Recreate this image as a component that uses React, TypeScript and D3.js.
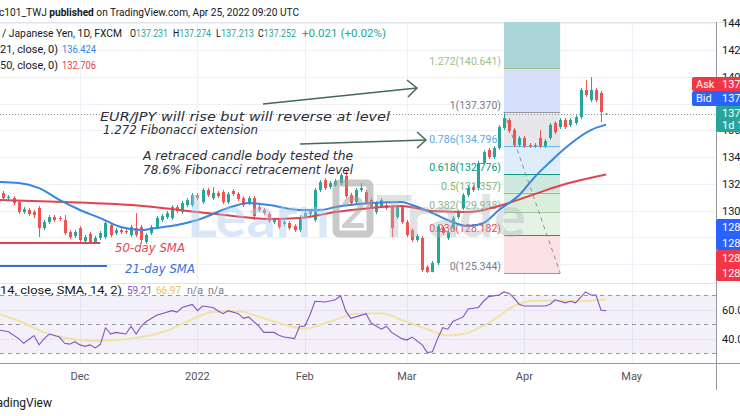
import { useEffect, useRef } from 'react';
import * as d3 from 'd3';

// EUR/JPY 1D (FXCM), weekdays from 9 Nov 2021 to 25 Apr 2022
const firstBar = '2021-11-09';
const lastBar = '2022-04-25';

const opens = [
  131.39, 131.32, 130.94, 130.94, 130.64, 129.90, 130.05, 129.90, 130.20, 128.70,
  129.15, 129.52, 129.45, 129.30, 128.40, 128.11, 128.70, 127.73, 128.26, 127.66,
  127.96, 128.03, 128.93, 128.33, 128.55, 128.48, 128.18, 128.70, 128.78, 127.66,
  128.33, 128.78, 129.30, 129.52, 129.45, 130.27, 129.90, 130.42, 130.42, 131.17,
  130.64, 131.54, 130.94, 131.32, 131.39, 130.64, 131.47, 131.24, 130.94, 130.57,
  130.94, 130.27, 130.05, 129.75, 129.15, 129.30, 129.00, 129.08, 128.85, 128.55,
  129.52, 129.75, 129.30, 131.54, 132.29, 131.77, 131.91, 132.06, 132.59, 131.17,
  130.64, 131.54, 131.39, 130.79, 129.90, 130.35, 130.42, 130.27, 129.52, 130.27,
  129.15, 128.55, 127.81, 127.96, 125.79, 125.42, 126.09, 128.70, 127.96, 128.70,
  129.52, 130.20, 131.17, 131.77, 131.69, 133.56, 134.53, 134.01, 134.68, 136.17,
  136.77, 136.02, 134.90, 135.43, 134.90, 134.90, 135.43, 134.83, 135.43, 136.55,
  136.25, 136.77, 136.40, 136.55, 136.99, 139.01, 138.26, 139.01, 138.79, 137.231,
];
const highs = [
  131.54, 131.47, 131.17, 131.09, 130.79, 130.27, 130.20, 130.05, 130.35, 129.30,
  129.67, 129.67, 129.60, 129.67, 128.55, 128.55, 128.85, 128.18, 128.40, 128.11,
  128.48, 129.23, 129.08, 128.70, 128.70, 128.63, 128.93, 129.82, 128.93, 128.33,
  128.93, 129.60, 129.75, 129.97, 130.42, 130.42, 130.72, 130.94, 131.32, 131.32,
  131.69, 131.69, 131.77, 131.47, 131.54, 131.39, 131.62, 131.39, 131.09, 131.09,
  131.09, 130.42, 130.20, 129.90, 129.45, 129.45, 129.30, 129.23, 129.00, 129.67,
  129.97, 130.12, 131.69, 132.29, 132.44, 132.21, 132.36, 132.81, 132.96, 131.32,
  131.69, 132.06, 131.54, 130.94, 130.72, 130.94, 130.57, 130.42, 130.42, 130.42,
  129.30, 128.70, 128.26, 128.11, 125.94, 126.24, 129.00, 128.85, 128.55, 129.60,
  130.05, 131.32, 131.84, 131.91, 133.71, 134.53, 134.68, 134.83, 136.40, 137.37,
  136.92, 136.17, 135.58, 135.58, 135.05, 135.05, 136.02, 135.35, 136.55, 136.69,
  136.92, 136.92, 136.92, 137.14, 139.16, 139.76, 139.98, 139.16, 138.94, 137.274,
];
const lows = [
  130.87, 130.79, 130.79, 130.42, 129.75, 129.75, 129.60, 129.45, 128.03, 128.55,
  129.00, 129.15, 129.23, 128.18, 127.88, 127.96, 127.66, 127.58, 127.51, 127.51,
  127.81, 127.88, 128.03, 128.18, 128.26, 128.26, 128.03, 128.03, 127.66, 127.51,
  128.18, 128.63, 129.15, 129.38, 129.30, 129.82, 129.75, 130.27, 130.27, 130.79,
  130.50, 131.02, 130.79, 130.94, 130.50, 130.50, 131.09, 130.72, 130.27, 130.42,
  129.30, 129.90, 129.67, 129.08, 129.00, 128.63, 128.85, 128.55, 128.40, 128.40,
  129.38, 129.60, 129.15, 131.39, 131.54, 131.62, 131.77, 131.91, 130.94, 130.42,
  130.50, 131.39, 130.50, 130.12, 129.75, 130.20, 130.05, 128.03, 129.38, 129.00,
  128.03, 127.66, 127.66, 125.42, 125.344, 125.40, 125.94, 128.18, 127.81, 128.55,
  129.38, 130.05, 131.02, 131.39, 131.54, 133.41, 133.86, 133.86, 134.53, 136.02,
  135.80, 134.75, 134.75, 134.68, 134.68, 134.68, 134.68, 134.68, 135.28, 135.72,
  136.10, 136.10, 136.25, 136.40, 136.84, 138.49, 138.11, 138.11, 136.62, 137.213,
];
const closes = [
  131.02, 130.94, 131.02, 130.57, 129.90, 130.12, 129.75, 129.67, 128.70, 129.15,
  129.52, 129.30, 129.38, 128.33, 128.03, 128.40, 127.81, 128.03, 127.66, 127.96,
  128.33, 129.08, 128.18, 128.55, 128.40, 128.40, 128.78, 128.18, 127.81, 128.18,
  128.78, 129.45, 129.60, 129.82, 130.27, 129.97, 130.57, 130.79, 131.17, 130.94,
  131.54, 131.17, 131.32, 131.09, 130.64, 131.24, 131.24, 130.87, 130.42, 130.94,
  129.60, 130.05, 129.82, 129.23, 129.30, 128.78, 129.15, 128.70, 128.55, 129.52,
  129.82, 129.97, 131.54, 132.14, 131.69, 132.06, 132.21, 132.66, 131.09, 130.57,
  131.54, 131.69, 130.64, 130.27, 130.57, 130.79, 130.20, 128.70, 130.27, 129.15,
  128.18, 127.81, 128.11, 125.57, 125.42, 126.09, 128.85, 128.33, 128.40, 129.45,
  129.90, 131.17, 131.69, 131.54, 133.56, 134.38, 134.01, 134.68, 136.25, 136.92,
  135.95, 134.90, 135.43, 134.83, 134.83, 134.83, 134.83, 135.20, 136.40, 135.87,
  136.77, 136.25, 136.77, 136.99, 139.01, 138.64, 139.01, 138.26, 137.37, 137.252,
];

// [bar, value]
const sma21 = [
  [0, 132.14], [4, 132.07], [8, 131.69], [12, 130.8], [16, 130.05], [20, 129.45], [24, 128.78],
  [28, 128.56], [31, 128.71], [35, 128.93], [39, 129.3], [45, 130.2], [49, 130.57], [53, 130.42],
  [59, 130.05], [63, 130.05], [66, 130.27], [73, 130.57], [79, 130.65], [81, 130.42], [85, 129.83],
  [88, 129.3], [92, 128.85], [95, 129.08], [98, 130.05], [102, 131.17], [105, 132.51], [108, 133.63],
  [111, 134.68], [116, 136.02], [119, 136.424],
];
const sma50 = [
  [0, 130.8], [13, 130.65], [26, 130.42], [39, 129.9], [46, 129.6], [53, 129.38], [59, 129.45],
  [63, 129.68], [66, 129.9], [73, 130.2], [79, 130.35], [85, 129.97], [92, 129.9], [98, 130.35],
  [105, 131.24], [111, 131.99], [119, 132.706],
];

// [bar, value]
const rsi = [
  [0, 45.9], [2, 44.6], [4, 39.9], [5, 36.7], [7, 42.1], [8, 35.6], [9, 39.9], [10, 43.1], [12, 41.0],
  [13, 36.7], [14, 36.1], [15, 37.8], [16, 35.6], [17, 34.6], [18, 35.6], [19, 33.5], [20, 36.0],
  [21, 47.4], [22, 43.1], [23, 44.2], [25, 43.1], [26, 48.5], [27, 43.1], [28, 48.5], [29, 51.7],
  [31, 56.0], [32, 57.1], [34, 59.2], [35, 58.2], [36, 61.4], [38, 63.5], [39, 59.2], [40, 62.4],
  [42, 61.4], [43, 59.2], [44, 57.1], [45, 59.2], [47, 57.1], [48, 53.9], [49, 54.9], [51, 48.5],
  [52, 44.2], [54, 44.2], [55, 42.1], [56, 41.0], [58, 39.9], [59, 48.5], [60, 48.5], [61, 56.0],
  [62, 65.7], [64, 65.2], [66, 66.7], [67, 69.5], [68, 59.2], [69, 53.9], [70, 54.9], [72, 57.1],
  [73, 50.7], [75, 46.4], [76, 48.5], [77, 44.2], [79, 39.9], [80, 38.9], [81, 41.0], [83, 35.6],
  [84, 30.3], [85, 30.9], [86, 39.9], [87, 47.4], [88, 46.4], [89, 51.7], [91, 54.9], [92, 60.3],
  [94, 61.4], [95, 65.7], [96, 68.9], [98, 70.0], [99, 72.1], [100, 71.1], [101, 67.8], [102, 63.5],
  [103, 62.4], [105, 62.4], [107, 62.4], [108, 63.5], [109, 66.7], [111, 64.6], [112, 65.7],
  [113, 64.6], [115, 72.1], [116, 70.0], [117, 70.0], [118, 59.5], [119, 59.21],
];
const rsiMa = [
  [0, 57.1], [5, 50.7], [9, 44.2], [14, 39.9], [19, 38.2], [23, 38.9], [28, 41.0], [33, 45.3],
  [37, 51.7], [42, 58.2], [47, 58.8], [51, 55.0], [56, 49.6], [60, 46.8], [65, 51.7], [70, 57.1],
  [75, 57.5], [79, 52.8], [84, 46.4], [88, 42.1], [91, 43.1], [96, 50.7], [101, 62.4], [105, 66.1],
  [110, 66.1], [114, 65.7], [118, 66.7], [119, 66.97],
];

const monthTicks = ['2021-12-01', '2022-01-03', '2022-02-01', '2022-03-01', '2022-04-01', '2022-05-02'];
const monthLabels = ['Dec', '2022', 'Feb', 'Mar', 'Apr', 'May'];
const priceTicks = [126, 128, 130, 132, 134, 136, 138, 140, 142, 144];
const rsiTicks = [60, 40];
const rsiBands = [70, 50, 30];

// Fibonacci retracement drawn from the 28 Mar high down to the 7 Mar low
const fibHigh = 137.37;
const fibLow = 125.344;
const fibFrom = '2022-03-28';
const fibTo = '2022-04-12';
const fibLevels = [0, 0.236, 0.382, 0.5, 0.618, 0.786, 1, 1.272, 1.618];
const fibLineColors = ['#9598a1', '#f23645', '#9cc59e', '#81c784', '#089981', '#64b5f6', '#9598a1', '#9cbf86', '#2a9da6'];
const fibTextColors = ['#787b86', '#f23645', '#8bb58d', '#7cb86b', '#089981', '#5aa9e6', '#787b86', '#9cbf86', '#2a9da6'];
const fibFills = ['#fbe1e1', '#e5f2e4', '#dbeedb', '#cfe8df', '#ddedf9', '#e7e7ea', '#d7e0fb', '#abd5d8'];

const UP = '#26a69a';
const DOWN = '#ef5350';

function draw(el: SVGSVGElement) {
  const svg = d3.select(el);
  svg.selectAll('*').remove();

  const parse = d3.utcParse('%Y-%m-%d');
  const tradingDay = d3.utcDay.filter((d: Date) => d.getUTCDay() % 6 !== 0);
  const t0 = parse(firstBar) as Date;
  const barOf = (s: string) => tradingDay.range(t0, parse(s) as Date).length;
  const n = barOf(lastBar) + 1;

  const right = 716, top = 22, mainBottom = 283, rsiBottom = 363;
  const x = d3.scaleLinear().domain([0.35, 140.5]).range([0, right]);
  const y = d3.scaleLinear().domain([124.6, 144.09]).range([mainBottom, top]);
  const yr = d3.scaleLinear().domain([30, 70]).range([353, 295]);
  const px = (i: number) => Math.round(x(i)) + 0.5;

  const defs = svg.append('defs');
  defs.append('clipPath').attr('id', 'clipMain').append('rect')
    .attr('x', 0).attr('y', top).attr('width', right).attr('height', mainBottom - top);
  defs.append('clipPath').attr('id', 'clipRsi').append('rect')
    .attr('x', 0).attr('y', mainBottom).attr('width', right).attr('height', rsiBottom - mainBottom);

  svg.append('rect').attr('width', 740).attr('height', 416).attr('fill', '#fff');

  // grid
  const grid = svg.append('g').attr('stroke', '#eef1f7').attr('stroke-width', 1);
  grid.selectAll('line.v').data(monthTicks).join('line').attr('class', 'v')
    .attr('x1', (d: string) => px(barOf(d))).attr('x2', (d: string) => px(barOf(d)))
    .attr('y1', top).attr('y2', rsiBottom);
  grid.selectAll('line.h').data(priceTicks).join('line').attr('class', 'h')
    .attr('x1', 0).attr('x2', right)
    .attr('y1', (d: number) => Math.round(y(d)) + 0.5).attr('y2', (d: number) => Math.round(y(d)) + 0.5);
  grid.selectAll('line.r').data(rsiTicks).join('line').attr('class', 'r')
    .attr('x1', 0).attr('x2', right)
    .attr('y1', (d: number) => Math.round(yr(d)) + 0.5).attr('y2', (d: number) => Math.round(yr(d)) + 0.5);

  // header separators and axes borders
  svg.append('line').attr('x1', 0).attr('x2', 740).attr('y1', 22.5).attr('y2', 22.5).attr('stroke', '#e0e3eb');
  svg.append('line').attr('x1', 0).attr('x2', right).attr('y1', mainBottom + 0.5).attr('y2', mainBottom + 0.5).attr('stroke', '#e0e3eb');
  svg.append('line').attr('x1', 0).attr('x2', 740).attr('y1', rsiBottom + 0.5).attr('y2', rsiBottom + 0.5).attr('stroke', '#9598a1');
  svg.append('line').attr('x1', right + 0.5).attr('x2', right + 0.5).attr('y1', top).attr('y2', 390).attr('stroke', '#9598a1');

  const main = svg.append('g').attr('clip-path', 'url(#clipMain)');

  // fibonacci zones
  const fx0 = x(barOf(fibFrom));
  const fx1 = x(barOf(fibTo));
  const fibPrice = (l: number) => fibLow + l * (fibHigh - fibLow);
  main.selectAll('rect.fib').data(fibFills).join('rect').attr('class', 'fib')
    .attr('x', fx0).attr('width', fx1 - fx0)
    .attr('y', (_: string, i: number) => y(fibPrice(fibLevels[i + 1])))
    .attr('height', (_: string, i: number) => y(fibPrice(fibLevels[i])) - y(fibPrice(fibLevels[i + 1])))
    .attr('fill', (d: string) => d);
  main.selectAll('line.fib').data(fibLevels).join('line').attr('class', 'fib')
    .attr('x1', fx0).attr('x2', fx1)
    .attr('y1', (d: number) => Math.round(y(fibPrice(d))) + 0.5)
    .attr('y2', (d: number) => Math.round(y(fibPrice(d))) + 0.5)
    .attr('stroke', (_: number, i: number) => fibLineColors[i]).attr('stroke-width', 1);
  main.selectAll('text.fib').data(fibLevels.slice(0, 8)).join('text').attr('class', 'fib')
    .attr('x', fx0 - 3).attr('y', (d: number) => y(fibPrice(d)) - 3)
    .attr('text-anchor', 'end').attr('font-size', 10.5)
    .attr('fill', (_: number, i: number) => fibTextColors[i])
    .text((d: number) => `${d}(${d3.format('.3f')(fibPrice(d))})`);

  // last price line
  main.append('line').attr('x1', 0).attr('x2', right)
    .attr('y1', Math.round(y(closes[n - 1])) + 0.5).attr('y2', Math.round(y(closes[n - 1])) + 0.5)
    .attr('stroke', '#8a9a9c').attr('stroke-dasharray', '1 2');

  // candles
  const bars = d3.range(n);
  const cg = main.append('g');
  cg.selectAll('line').data(bars).join('line')
    .attr('x1', (i: number) => px(i)).attr('x2', (i: number) => px(i))
    .attr('y1', (i: number) => y(highs[i])).attr('y2', (i: number) => y(lows[i]))
    .attr('stroke', (i: number) => (closes[i] >= opens[i] ? UP : DOWN));
  cg.selectAll('rect').data(bars).join('rect')
    .attr('x', (i: number) => px(i) - 1.5).attr('width', 3)
    .attr('y', (i: number) => y(Math.max(opens[i], closes[i])))
    .attr('height', (i: number) => Math.max(1, Math.abs(y(opens[i]) - y(closes[i]))))
    .attr('fill', (i: number) => (closes[i] >= opens[i] ? UP : DOWN));

  // moving averages
  const maLine = d3.line<number[]>().x((d) => x(d[0])).y((d) => y(d[1])).curve(d3.curveMonotoneX);
  main.append('path').attr('d', maLine(sma50)).attr('fill', 'none').attr('stroke', '#e0434f').attr('stroke-width', 2);
  main.append('path').attr('d', maLine(sma21)).attr('fill', 'none').attr('stroke', '#3a85dd').attr('stroke-width', 2);

  // fib diagonal
  main.append('line').attr('x1', fx0).attr('y1', y(fibHigh)).attr('x2', fx1).attr('y2', y(fibLow))
    .attr('stroke', '#8d8f96').attr('stroke-dasharray', '4 4');

  // SMA key lines drawn on the chart
  main.append('line').attr('x1', 0).attr('x2', x(20)).attr('y1', y(127.58)).attr('y2', y(127.58))
    .attr('stroke', '#e0434f').attr('stroke-width', 2);
  main.append('line').attr('x1', 0).attr('x2', x(21.3)).attr('y1', y(125.87)).attr('y2', y(125.87))
    .attr('stroke', '#3a6fd8').attr('stroke-width', 2);

  // RSI pane
  const rg = svg.append('g').attr('clip-path', 'url(#clipRsi)');
  rg.append('rect').attr('x', 0).attr('width', right).attr('y', yr(70)).attr('height', yr(30) - yr(70))
    .attr('fill', '#7e57c2').attr('fill-opacity', 0.09);
  rg.selectAll('line.band').data(rsiBands).join('line').attr('class', 'band')
    .attr('x1', 0).attr('x2', right)
    .attr('y1', (d: number) => Math.round(yr(d)) + 0.5).attr('y2', (d: number) => Math.round(yr(d)) + 0.5)
    .attr('stroke', '#9598a1').attr('stroke-dasharray', '4 4');
  rg.append('path')
    .attr('d', d3.line<number[]>().x((d) => x(d[0])).y((d) => yr(d[1])).curve(d3.curveMonotoneX)(rsiMa))
    .attr('fill', 'none').attr('stroke', '#f1e2a6').attr('stroke-width', 2);
  rg.append('path').attr('d', d3.line<number[]>().x((d) => x(d[0])).y((d) => yr(d[1]))(rsi)).attr('fill', 'none')
    .attr('stroke', '#7e57c2').attr('stroke-width', 1.1);

  // price axis
  svg.selectAll('text.pt').data(priceTicks).join('text').attr('class', 'pt')
    .attr('x', 722).attr('y', (d: number) => y(d) + 4).attr('font-size', 11).attr('fill', '#131722')
    .text((d: number) => d3.format('.3f')(d));
  svg.selectAll('text.rt').data(rsiTicks).join('text').attr('class', 'rt')
    .attr('x', 722).attr('y', (d: number) => yr(d) + 4).attr('font-size', 11).attr('fill', '#131722')
    .text((d: number) => d3.format('.2f')(d));

  // time axis
  svg.selectAll('text.mt').data(monthTicks).join('text').attr('class', 'mt')
    .attr('x', (d: string) => x(barOf(d))).attr('y', 380).attr('text-anchor', 'middle')
    .attr('font-size', 11).attr('fill', '#50535e')
    .text((_: string, i: number) => monthLabels[i]);

  svg.append('text').attr('x', 52).attr('y', 407).attr('text-anchor', 'end').attr('font-size', 12)
    .attr('fill', '#131722').text('TradingView');

  // header + legends
  const hdr = svg.append('text').attr('x', -1).attr('y', 16).attr('font-size', 10.5).attr('fill', '#131722')
    .attr('textLength', 300).attr('lengthAdjust', 'spacingAndGlyphs');
  hdr.append('tspan').text('c101_TWJ ');
  hdr.append('tspan').attr('font-weight', 'bold').text('published');
  hdr.append('tspan').text(' on TradingView.com, Apr 25, 2022 09:20 UTC');

  const chunk = (tx: number, ty: number, w: number, size: number) =>
    svg.append('text').attr('x', tx).attr('y', ty).attr('font-size', size).attr('fill', '#131722')
      .attr('textLength', w).attr('lengthAdjust', 'spacingAndGlyphs');

  chunk(2, 37, 120, 10.5).text('/ Japanese Yen, 1D, FXCM');
  const ohlc = [['O', opens[n - 1]], ['H', highs[n - 1]], ['L', lows[n - 1]], ['C', closes[n - 1]]];
  const ox = [130, 173, 216, 258];
  ohlc.forEach((d, i) => {
    const t = chunk(ox[i], 37, 38, 10.5);
    t.append('tspan').text(d[0] as string);
    t.append('tspan').attr('fill', UP).text(d3.format('.3f')(d[1] as number));
  });
  chunk(302, 37, 84, 10.5).attr('fill', UP).text('+0.021 (+0.02%)');

  chunk(0, 53, 58, 10.5).text('21, close, 0)');
  chunk(62, 53, 34, 10.5).attr('fill', '#3a85dd').text(d3.format('.3f')(sma21[sma21.length - 1][1]));
  chunk(0, 69, 58, 10.5).text('50, close, 0)');
  chunk(62, 69, 34, 10.5).attr('fill', '#e0434f').text(d3.format('.3f')(sma50[sma50.length - 1][1]));

  chunk(0, 294, 122, 10).text('14, close, SMA, 14, 2)');
  chunk(127, 294, 25, 10).attr('fill', '#7e57c2').text(d3.format('.2f')(rsi[rsi.length - 1][1]));
  chunk(156, 294, 25, 10).attr('fill', '#e3c64e').text(d3.format('.2f')(rsiMa[rsiMa.length - 1][1]));
  chunk(187, 294, 16, 10).attr('fill', '#787b86').text('n/a');
  chunk(208, 294, 16, 10).attr('fill', '#787b86').text('n/a');

  // annotations
  const note = svg.append('g').attr('font-family', 'DejaVu Sans').attr('font-style', 'italic').attr('font-size', 12.5);
  const txt = (s: string, tx: number, ty: number, w: number, fill: string) =>
    note.append('text').attr('x', tx).attr('y', ty).attr('textLength', w).attr('lengthAdjust', 'spacingAndGlyphs')
      .attr('fill', fill).text(s);
  txt('EUR/JPY will rise but will reverse at level', 100, 121, 290, '#2a2e39');
  txt('1.272 Fibonacci extension', 103, 134, 155, '#2a2e39');
  txt('A retraced candle body tested the', 143, 160, 210, '#2a2e39');
  txt('78.6% Fibonacci retracement level', 143, 174, 210, '#2a2e39');
  txt('50-day SMA', 115, 252, 70, '#e0475a');
  txt('21-day SMA', 125, 273, 70, '#3d6fd6');

  const arrows = svg.append('g').attr('stroke', '#41695e').attr('stroke-width', 1.5).attr('fill', 'none');
  arrows.append('line').attr('x1', 263).attr('y1', 104).attr('x2', 417).attr('y2', 88);
  arrows.append('polyline').attr('points', '407,80 417,88 408,97');
  arrows.append('line').attr('x1', 300).attr('y1', 144).attr('x2', 426).attr('y2', 140);
  arrows.append('polyline').attr('points', '417,132 426,140 417,148');

  // watermark
  const wm = svg.append('g').attr('font-family', 'Lato').attr('font-weight', 'bold').attr('font-size', 58);
  wm.append('text').attr('x', 187).attr('y', 237).attr('textLength', 143).attr('lengthAdjust', 'spacingAndGlyphs')
    .attr('fill', '#a9cdef').attr('fill-opacity', 0.45).text('Learn');
  wm.append('rect').attr('x', 336).attr('y', 183).attr('width', 34).attr('height', 51).attr('rx', 3)
    .attr('fill', 'none').attr('stroke', '#9c9c9c').attr('stroke-opacity', 0.55).attr('stroke-width', 7);
  wm.append('text').attr('x', 353).attr('y', 228).attr('text-anchor', 'middle').attr('font-size', 44)
    .attr('fill', '#9c9c9c').attr('fill-opacity', 0.5).text('2');
  wm.append('text').attr('x', 376).attr('y', 237).attr('textLength', 150).attr('lengthAdjust', 'spacingAndGlyphs')
    .attr('fill', '#aeb4b8').attr('fill-opacity', 0.4).text('Trade');

  // price tags
  const tag = (tx: number, ty: number, w: number, h: number, fill: string) =>
    svg.append('rect').attr('x', tx).attr('y', ty).attr('width', w).attr('height', h).attr('rx', 2).attr('fill', fill);
  const tagText = (s: string, tx: number, ty: number) =>
    svg.append('text').attr('x', tx).attr('y', ty).attr('font-size', 11).attr('fill', '#fff').text(s);
  tag(692, 77, 50, 14, '#f23645');
  tagText('Ask', 696, 88); tagText('137.268', 722, 88);
  tag(692, 91, 50, 15, '#2962ff');
  tagText('Bid', 696, 102); tagText('137.250', 722, 102);
  tag(716, 106, 26, 26, UP);
  tagText(d3.format('.3f')(closes[n - 1]), 722, 117); tagText('1d 14h', 722, 129);
  tag(716, 219, 26, 31, '#2962ff');
  tagText('128.183', 722, 231); tagText('128.021', 722, 247);
  tag(716, 250, 26, 31, '#f23645');
  tagText('128.190', 722, 262); tagText('128.044', 722, 277);
}

export default function App() {
  const ref = useRef<SVGSVGElement>(null);
  useEffect(() => {
    if (ref.current) draw(ref.current);
  }, []);
  return (
    <svg
      ref={ref}
      width={740}
      height={416}
      style={{ position: 'absolute', left: 0, top: 0, fontFamily: 'Roboto, sans-serif' }}
    />
  );
}
